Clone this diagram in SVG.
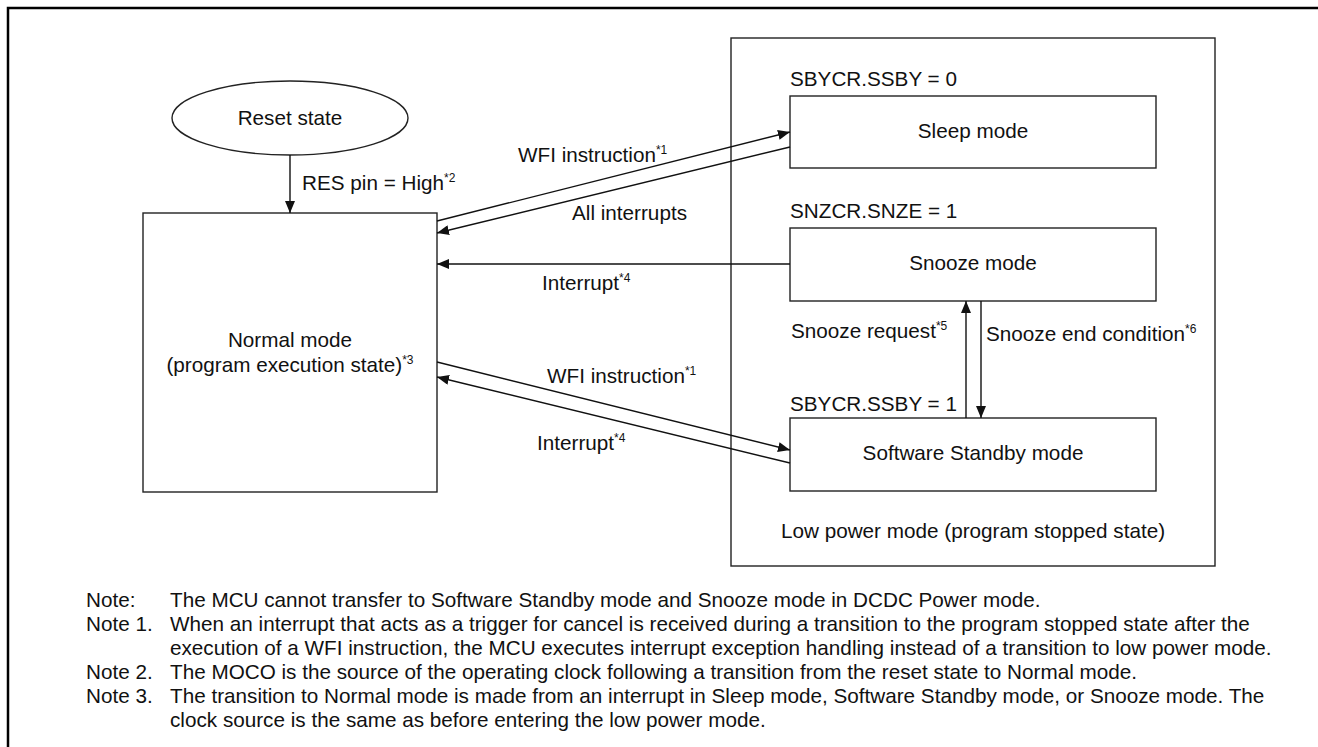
<svg xmlns="http://www.w3.org/2000/svg" width="1318" height="747" viewBox="0 0 1318 747">
<style>
text{font-family:"Liberation Sans",Arial,sans-serif;font-size:20.7px;fill:#111}
.box{fill:#fff;stroke:#222;stroke-width:1.4}
.ln{fill:none;stroke:#111;stroke-width:1.4}
.c{text-anchor:middle}
.sup{font-size:12px}
</style>
<defs>
<marker id="ah" markerUnits="userSpaceOnUse" markerWidth="12" markerHeight="10" refX="12" refY="5" orient="auto">
<path d="M0,0 L12,5 L0,10 z" fill="#111"/>
</marker>
</defs>
<rect width="1318" height="747" fill="#fff"/>
<path d="M8,760 V8 H1330" fill="none" stroke="#000" stroke-width="2.5"/>

<g id="lowpower">
<rect class="box" x="731" y="38" width="484" height="528"/>
<text x="973" y="538" class="c">Low power mode (program stopped state)</text>
</g>

<g id="reset">
<ellipse cx="290" cy="118" rx="118" ry="37" class="box"/>
<text x="290" y="125" class="c">Reset state</text>
</g>

<g id="normal">
<rect class="box" x="143" y="213" width="294" height="279"/>
<text x="290" y="347" class="c">Normal mode</text>
<text x="290" y="372" class="c">(program execution state)<tspan class="sup" dy="-8">*3</tspan></text>
</g>

<g id="sleep">
<text x="790" y="86">SBYCR.SSBY = 0</text>
<rect class="box" x="790" y="96" width="366" height="72"/>
<text x="973" y="138" class="c">Sleep mode</text>
</g>

<g id="snooze">
<text x="790" y="218">SNZCR.SNZE = 1</text>
<rect class="box" x="790" y="228" width="366" height="73"/>
<text x="973" y="270" class="c">Snooze mode</text>
</g>

<g id="standby">
<text x="790" y="411">SBYCR.SSBY = 1</text>
<rect class="box" x="790" y="418" width="366" height="73"/>
<text x="973" y="460" class="c">Software Standby mode</text>
</g>

<g id="connectors">
<line class="ln" x1="290" y1="155" x2="290" y2="213" marker-end="url(#ah)"/>
<line class="ln" x1="437" y1="221" x2="790" y2="132" marker-end="url(#ah)"/>
<line class="ln" x1="790" y1="147" x2="437" y2="233" marker-end="url(#ah)"/>
<line class="ln" x1="790" y1="264" x2="437" y2="264" marker-end="url(#ah)"/>
<line class="ln" x1="437" y1="362" x2="790" y2="450" marker-end="url(#ah)"/>
<line class="ln" x1="790" y1="463" x2="437" y2="377" marker-end="url(#ah)"/>
<line class="ln" x1="966" y1="418" x2="966" y2="301" marker-end="url(#ah)"/>
<line class="ln" x1="981" y1="301" x2="981" y2="418" marker-end="url(#ah)"/>
<text x="302" y="190">RES pin = High<tspan class="sup" dy="-8">*2</tspan></text>
<text x="518" y="162">WFI instruction<tspan class="sup" dy="-8">*1</tspan></text>
<text x="572" y="220">All interrupts</text>
<text x="542" y="290">Interrupt<tspan class="sup" dy="-8">*4</tspan></text>
<text x="547" y="383">WFI instruction<tspan class="sup" dy="-8">*1</tspan></text>
<text x="537" y="450">Interrupt<tspan class="sup" dy="-8">*4</tspan></text>
<text x="791" y="338">Snooze request<tspan class="sup" dy="-8">*5</tspan></text>
<text x="986" y="341">Snooze end condition<tspan class="sup" dy="-8">*6</tspan></text>
</g>

<g id="notes">
<text x="86" y="607">Note:</text>
<text x="170" y="607">The MCU cannot transfer to Software Standby mode and Snooze mode in DCDC Power mode.</text>
<text x="86" y="631">Note 1.</text>
<text x="170" y="631">When an interrupt that acts as a trigger for cancel is received during a transition to the program stopped state after the</text>
<text x="170" y="655">execution of a WFI instruction, the MCU executes interrupt exception handling instead of a transition to low power mode.</text>
<text x="86" y="679">Note 2.</text>
<text x="170" y="679">The MOCO is the source of the operating clock following a transition from the reset state to Normal mode.</text>
<text x="86" y="703">Note 3.</text>
<text x="170" y="703">The transition to Normal mode is made from an interrupt in Sleep mode, Software Standby mode, or Snooze mode. The</text>
<text x="170" y="727">clock source is the same as before entering the low power mode.</text>
</g>
</svg>
